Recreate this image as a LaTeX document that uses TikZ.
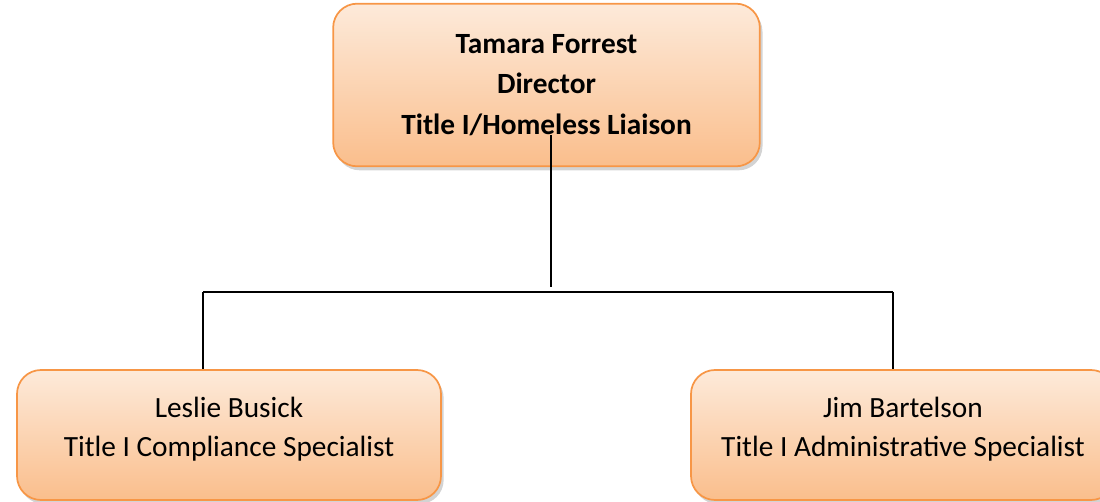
\documentclass[tikz,border=0pt]{standalone}
\usepackage{fontspec}
\setmainfont{Carlito}
\usetikzlibrary{positioning, shadows}
\definecolor{peachtop}{RGB}{253,234,218}
\definecolor{peachbot}{RGB}{250,190,140}
\definecolor{orangeedge}{RGB}{247,150,70}

\begin{document}
\begin{tikzpicture}[x=0.75pt, y=-0.75pt,
  orgbox/.style={draw=orangeedge, line width=1.3pt, rounded corners=18pt,
    top color=peachtop, bottom color=peachbot, align=center,
    drop shadow={shadow xshift=2pt, shadow yshift=-3pt, opacity=0.35},
    font=\fontsize{22}{30.5}\selectfont},
  link/.style={line width=1.2pt, black}]
\useasboundingbox (0,0) rectangle (1100,502);
\node[orgbox, minimum width=320pt, minimum height=122pt] (dir) at (546.5,85)
  {\bfseries Tamara Forrest\\ \bfseries Director\\ \bfseries Title I/Homeless Liaison};
\node[orgbox, minimum width=318pt, minimum height=97.5pt] (lb) at (229,435)
  {Leslie Busick\\[-1pt] Title I Compliance Specialist\\[-18.5pt]};
\node[orgbox, minimum width=318pt, minimum height=97.5pt] (jb) at (903,435)
  {Jim Bartelson\\[-1pt] Title I Administrative Specialist\\[-18.5pt]};
% connectors
\coordinate (stem) at (551,135);
\coordinate (hub) at (551,287);
\coordinate (lhub) at (203,292);
\coordinate (rhub) at (893,292);
\draw[link] (stem) -- (hub);
\draw[link] (lhub) -- (rhub);
\draw[link] (lhub) -- (lhub |- lb.north);
\draw[link] (rhub) -- (rhub |- jb.north);
\end{tikzpicture}
\end{document}
